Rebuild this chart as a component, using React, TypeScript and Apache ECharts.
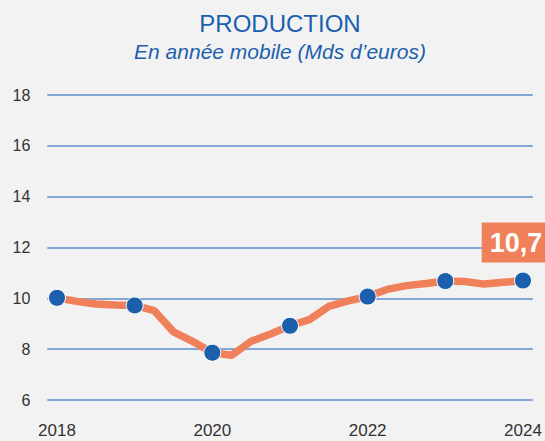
import React, { useEffect, useRef } from "react";
import * as echarts from "echarts";

const quarters: string[] = [
  "2018", "2019 T1", "2019 T2", "2019 T3",
  "2019", "2020 T1", "2020 T2", "2020 T3",
  "2020", "2021 T1", "2021 T2", "2021 T3",
  "2021", "2022 T1", "2022 T2", "2022 T3",
  "2022", "2023 T1", "2023 T2", "2023 T3",
  "2023", "2024 T1", "2024 T2", "2024 T3",
  "2024",
];

const production: number[] = [
  10.02, 9.88, 9.78, 9.74,
  9.72, 9.52, 8.68, 8.3,
  7.86, 7.76, 8.31, 8.6,
  8.92, 9.16, 9.68, 9.9,
  10.07, 10.35, 10.5, 10.58,
  10.68, 10.66, 10.56, 10.63,
  10.7,
];

const yTicks = { min: 6, max: 18, interval: 2 };

const BLUE = "#1C5FAD";
const ORANGE = "#F0805A";
const FONT = "Liberation Sans, Arial, sans-serif";

export default function App() {
  const ref = useRef<HTMLDivElement>(null);
  useEffect(() => {
    document.body.style.margin = "0";
    document.body.style.background = "#F2F2F2";
    if (!ref.current) return;
    const chart = echarts.init(ref.current, undefined, { renderer: "svg" });
    const last = production.length - 1;
    const data = production.map((v, i) => {
      const item: any = {
        value: v,
        symbol: i % 4 === 0 ? "circle" : "none",
      };
      if (i === last) {
        item.label = {
          show: true,
          position: "top",
          distance: 9,
          offset: [-7, 0],
          formatter: (p: any) => p.value.toFixed(1).replace(".", ","),
          backgroundColor: ORANGE,
          color: "#FFFFFF",
          fontFamily: FONT,
          fontWeight: "bold",
          fontSize: 27,
          padding: [7, 8, 6, 8],
        };
      }
      return item;
    });
    chart.setOption({
      animation: false,
      backgroundColor: "#F2F2F2",
      title: [
        {
          text: "PRODUCTION",
          left: 275,
          top: 6,
          textAlign: "center",
          textStyle: { color: BLUE, fontSize: 24, fontWeight: "normal", fontFamily: FONT },
        },
        {
          text: "En année mobile (Mds d’euros)",
          left: 275,
          top: 36,
          textAlign: "center",
          textStyle: {
            color: BLUE,
            fontSize: 21,
            fontStyle: "italic",
            fontWeight: "normal",
            fontFamily: FONT,
          },
        },
      ],
      grid: { left: 47.3, right: 12.3, top: 95, bottom: 41 },
      xAxis: {
        type: "category",
        data: quarters,
        boundaryGap: true,
        axisLine: { show: false },
        axisTick: { show: false },
        axisLabel: {
          interval: 7,
          margin: 22,
          color: "#333333",
          fontSize: 17,
          fontFamily: FONT,
          formatter: (v: string) => v.slice(0, 4),
        },
      },
      yAxis: {
        type: "value",
        min: yTicks.min,
        max: yTicks.max,
        interval: yTicks.interval,
        axisLine: { show: false },
        axisTick: { show: false },
        axisLabel: { margin: 17, color: "#333333", fontSize: 16, fontFamily: FONT },
        splitLine: { lineStyle: { color: "#5E8ECB", width: 1.5 } },
      },
      series: [
        {
          type: "line",
          data,
          showAllSymbol: true,
          symbolSize: 17,
          lineStyle: { color: ORANGE, width: 7.5, join: "round", cap: "round" },
          itemStyle: { color: BLUE, borderColor: "#FFFFFF", borderWidth: 1 },
          z: 3,
        },
      ],
    });
    return () => chart.dispose();
  }, []);
  return <div ref={ref} style={{ width: 545, height: 441 }} />;
}
